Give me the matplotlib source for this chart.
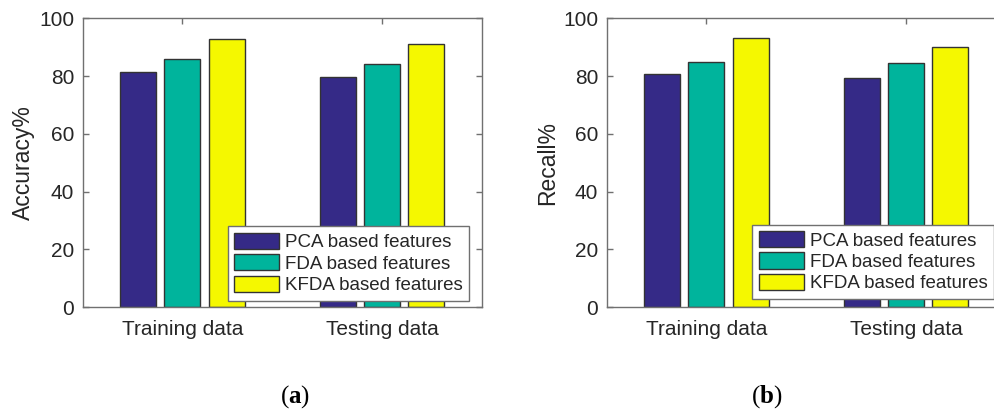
import matplotlib
matplotlib.use("Agg")
import matplotlib.pyplot as plt
import numpy as np

# data
groups = ["Training data", "Testing data"]
methods = ["PCA based features", "FDA based features", "KFDA based features"]
accuracy = [
    [81.3, 79.7],   # PCA
    [85.9, 84.1],   # FDA
    [92.9, 91.2],   # KFDA
]
recall = [
    [80.7, 79.4],
    [85.0, 84.6],
    [93.1, 90.0],
]
y_ticks = [0, 20, 40, 60, 80, 100]
colors = ["#352a87", "#00b49c", "#f5f800"]


def draw_panel(ax, values, ylabel, legend_anchor):
    x = np.arange(1, len(groups) + 1)
    offsets = [-0.222, 0.0, 0.222]
    for i, name in enumerate(methods):
        ax.bar(x + offsets[i], values[i], width=0.18, color=colors[i],
               edgecolor="#333333", linewidth=1.0, label=name, zorder=2)

    ax.set_xlim(0.5, 2.5)
    ax.set_ylim(0, 100)
    ax.set_xticks(x)
    ax.set_xticklabels(groups)
    ax.set_yticks(y_ticks)
    ax.set_ylabel(ylabel, fontsize=16.5, color="#262626", labelpad=3)

    for spine in ax.spines.values():
        spine.set_color("#707070")
        spine.set_linewidth(1.0)
    ax.tick_params(direction="in", length=4, width=1.0, color="#707070",
                   top=True, right=True, labelsize=15, labelcolor="#262626")
    ax.tick_params(axis="x", pad=9)
    ax.tick_params(axis="y", pad=6)

    leg = ax.legend(loc="lower right", bbox_to_anchor=legend_anchor,
                    borderaxespad=0, fontsize=13.5, fancybox=False,
                    handlelength=2.4, handleheight=0.95, handletextpad=0.3,
                    labelspacing=0.15, borderpad=0.35, framealpha=1)
    leg.get_frame().set_edgecolor("#707070")
    leg.get_frame().set_linewidth(1.0)
    for t in leg.get_texts():
        t.set_color("#262626")


def main():
    plt.rcParams["font.family"] = ["Liberation Sans", "DejaVu Sans"]
    plt.rcParams["mathtext.fontset"] = "custom"
    plt.rcParams["mathtext.rm"] = "Liberation Serif"
    plt.rcParams["mathtext.bf"] = "Liberation Serif:bold"

    fig = plt.figure(figsize=(9.95, 4.09), dpi=100)

    ax1 = fig.add_axes([0.0831, 0.2487, 0.401, 0.7066])
    ax2 = fig.add_axes([0.6097, 0.2487, 0.401, 0.7066])

    draw_panel(ax1, accuracy, "Accuracy%", (0.969, 0.023))
    draw_panel(ax2, recall, "Recall%", (0.9706, 0.029))

    fig.text(295 / 995, 1 - 397 / 409, r"($\mathbf{a}$)", ha="center",
             va="center", fontsize=18, family="Liberation Serif")
    fig.text(767 / 995, 1 - 397 / 409, r"($\mathbf{b}$)", ha="center",
             va="center", fontsize=18, family="Liberation Serif")

    fig.savefig("out.png", dpi=100)


if __name__ == "__main__":
    main()
